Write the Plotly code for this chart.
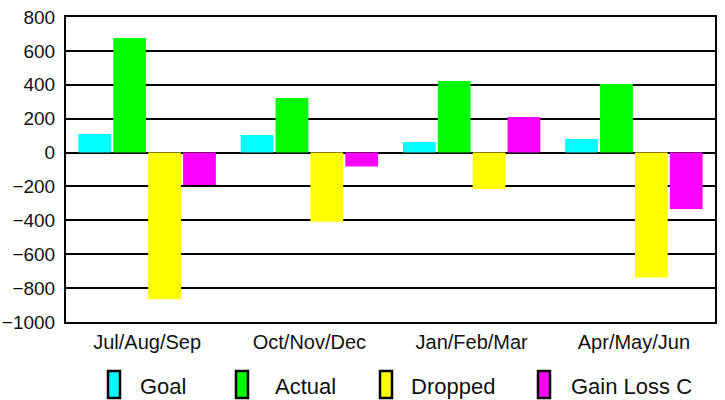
import plotly.graph_objects as go

categories = ["Jul/Aug/Sep", "Oct/Nov/Dec", "Jan/Feb/Mar", "Apr/May/Jun"]
goal = [110, 104, 63, 80]
actual = [676, 322, 423, 405]
dropped = [-865, -408, -215, -738]
gain_loss = [-191, -83, 210, -333]
tick_vals = [800, 600, 400, 200, 0, -200, -400, -600, -800, -1000]

series_names = ["Goal", "Actual", "Dropped", "Gain Loss C"]
series_values = [goal, actual, dropped, gain_loss]
series_colors = ["#00FFFF", "#00FF00", "#FFFF00", "#FF00FF"]

W, H = 725, 400
ML, MT = 66, 17
PW, PH = 649, 305
MR, MB = W - ML - PW, H - MT - PH

fig = go.Figure()
for name, vals, color in zip(series_names, series_values, series_colors):
    fig.add_trace(go.Bar(name=name, x=categories, y=vals,
                         marker=dict(color=color, line=dict(width=0))))

# manual legend (tall outlined swatches like the reference), page pixel positions
legend_symbol_px = [108, 236, 380, 538]
legend_text_px = [140, 275, 411, 571]
bottom_px = MT + PH
shapes, annotations = [], []
for name, color, sx, tx in zip(series_names, series_colors, legend_symbol_px, legend_text_px):
    shapes.append(dict(type="rect", xref="paper", yref="paper",
                       x0=(sx - ML) / PW, x1=(sx + 12 - ML) / PW,
                       y0=(bottom_px - 398) / PH, y1=(bottom_px - 371) / PH,
                       fillcolor=color, line=dict(color="black", width=2.5), layer="above"))
    annotations.append(dict(xref="paper", yref="paper", x=(tx - ML) / PW,
                            y=(bottom_px - 386) / PH, xanchor="left", yanchor="middle",
                            text=name, showarrow=False, xshift=-2,
                            font=dict(size=22, color="#111111")))

fig.update_layout(
    width=W, height=H,
    margin=dict(l=ML, r=MR, t=MT, b=MB, autoexpand=False),
    paper_bgcolor="white", plot_bgcolor="white",
    barmode="group", bargap=0.14, bargroupgap=0.06,
    font=dict(family="Liberation Sans, Arial, sans-serif", size=20, color="#111111"),
    showlegend=False,
    shapes=shapes, annotations=annotations,
)
fig.update_yaxes(
    range=[-1000, 800], tickvals=tick_vals, showgrid=True, gridcolor="black", gridwidth=1.5,
    zeroline=True, zerolinecolor="black", zerolinewidth=2,
    showline=True, linecolor="black", linewidth=2, mirror=True, ticks="",
    tickfont=dict(size=19), automargin=False, ticklabelstandoff=5,
)
fig.update_xaxes(
    showline=True, linecolor="black", linewidth=2, mirror=True, ticks="",
    tickfont=dict(size=20), automargin=False, ticklabelstandoff=1,
)

fig.write_html("out.html", config={"displayModeBar": False},
               post_script="document.body.style.margin='0';")
